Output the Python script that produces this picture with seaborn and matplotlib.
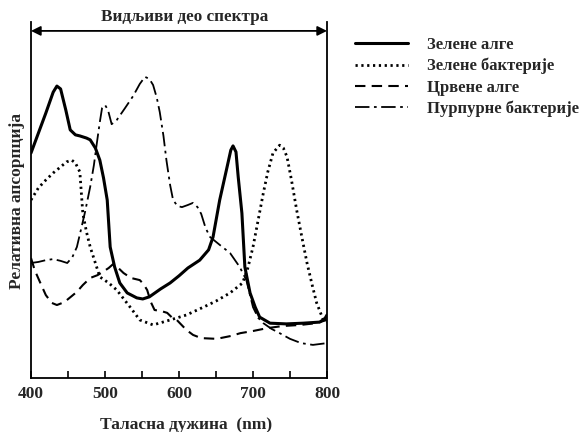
import matplotlib
matplotlib.use("Agg")
import matplotlib.pyplot as plt
import seaborn as sns

# wavelength (nm) and relative absorption (0-100)
green_algae_nm = [400, 420, 430, 435, 440, 447, 453, 460, 466, 475, 480, 487, 493, 498, 503, 507, 513, 520, 530,
                  543, 551, 560, 575, 588, 600, 612, 628, 640, 646, 655, 665, 670, 673, 677, 680, 685, 689, 696,
                  703, 709, 723, 745, 768, 790, 797, 800]
green_algae = [63.2, 74.4, 80.3, 82.0, 81.2, 75.3, 69.7, 68.3, 68.0, 67.4, 66.9, 64.6, 61.2, 56.2, 50.0, 36.8, 31.2,
               26.7, 23.9, 22.5, 22.2, 22.8, 25.0, 26.7, 28.7, 30.9, 33.1, 36.0, 39.6, 50.0, 59.3, 64.0, 65.2, 63.5,
               56.5, 46.3, 31.2, 23.9, 19.9, 17.1, 15.4, 15.2, 15.4, 15.7, 16.6, 17.7]

green_bact_nm = [400, 410, 420, 430, 440, 448, 455, 460, 466, 470, 475, 480, 493, 505, 516, 534, 547, 565, 588, 610,
                 633, 650, 669, 686, 693, 700, 707, 714, 720, 727, 736, 741, 746, 752, 759, 766, 773, 780, 786, 795,
                 800]
green_bact = [50.0, 53.4, 55.6, 57.6, 59.3, 60.7, 61.2, 60.4, 57.9, 46.3, 41.0, 36.8, 28.4, 26.7, 24.7, 19.9, 16.3,
              14.9, 16.3, 17.7, 19.9, 21.6, 23.9, 26.7, 30.9, 36.8, 44.4, 52.0, 57.9, 63.2, 65.4, 64.6, 62.1, 55.6,
              47.2, 39.6, 32.3, 26.1, 21.1, 16.3, 15.7]

red_algae_nm = [400, 405, 412, 420, 428, 435, 445, 455, 462, 470, 480, 490, 497, 505, 511, 518, 525, 535, 547, 552,
                557, 562, 567, 576, 584, 591, 597, 610, 619, 630, 651, 670, 683, 700, 719, 740, 764, 785, 800]
red_algae = [33.7, 30.3, 27.0, 23.3, 21.1, 20.5, 21.3, 23.0, 24.2, 26.1, 28.1, 28.9, 29.8, 30.9, 32.0, 30.9, 29.5,
             28.1, 27.5, 26.4, 24.7, 21.3, 19.1, 18.8, 18.3, 16.9, 16.3, 13.5, 12.1, 11.2, 11.0, 11.8, 12.6, 13.2,
             14.0, 14.6, 14.9, 15.4, 16.3]

purple_bact_nm = [400, 410, 420, 430, 440, 449, 456, 462, 468, 473, 480, 485, 489, 493, 496, 500, 504, 509, 516,
                  527, 538, 547, 554, 560, 565, 570, 574, 579, 583, 588, 592, 598, 604, 612, 619, 625, 630, 636, 642,
                  655, 669, 682, 691, 700, 707, 714, 725, 736, 750, 765, 781, 800]
purple_bact = [32.3, 32.6, 33.1, 33.4, 32.9, 32.3, 34.0, 36.8, 42.1, 46.6, 53.7, 59.8, 66.0, 71.9, 75.8, 76.7, 75.3,
               71.3, 72.5, 75.8, 79.2, 82.6, 84.6, 84.0, 82.3, 78.7, 74.7, 68.0, 61.2, 54.2, 50.0, 48.3, 48.0, 48.6,
               49.2, 48.0, 46.1, 42.1, 39.6, 37.4, 35.1, 31.2, 27.5, 19.9, 16.9, 15.4, 13.8, 12.6, 11.0, 9.8, 9.3,
               9.8]

labels = ["Зелене алге", "Зелене бактерије", "Црвене алге", "Пурпурне бактерије"]
x_ticks = [400, 450, 500, 550, 600, 650, 700, 750, 800]
x_tick_labels = ["400", "", "500", "", "600", "", "700", "", "800"]

sns.set_style("white")
plt.rcParams["font.family"] = ["Liberation Serif", "DejaVu Serif"]
plt.rcParams["font.weight"] = "bold"

fig = plt.figure(figsize=(5.86, 4.32), dpi=100)
ax = fig.add_axes([31 / 586, 1 - 378 / 432, 296 / 586, 356 / 432])

series = [
    (green_algae_nm, green_algae, "-", 2.2),
    (green_bact_nm, green_bact, (0, (0.8, 1.3)), 2.0),
    (red_algae_nm, red_algae, (0, (5, 3)), 1.5),
    (purple_bact_nm, purple_bact, (0, (8, 2.5, 1.5, 2.5)), 1.3),
]
for (xs, ys, ls, lw), lab in zip(series, labels):
    sns.lineplot(x=xs, y=ys, ax=ax, color="black", linestyle=ls, linewidth=lw, label=lab, legend=False)

ax.set_xlim(400, 800)
ax.set_ylim(0, 100)
ax.set_yticks([])
ax.set_xticks(x_ticks)
ax.set_xticklabels(x_tick_labels, fontsize=12.5, fontweight="bold")
ax.tick_params(axis="x", direction="in", length=5, width=1.2, color="black", pad=6, bottom=True)
ax.spines["top"].set_visible(False)
for s in ["left", "right", "bottom"]:
    ax.spines[s].set_color("black")
    ax.spines[s].set_linewidth(1.3)

# visible spectrum arrow
ax.annotate("", xy=(0, 0.975), xytext=(1, 0.975), xycoords="axes fraction",
            arrowprops=dict(arrowstyle="<|-|>", color="black", lw=1.3, mutation_scale=14,
                            shrinkA=0, shrinkB=0))
fig.text(185 / 586, 1 - 17 / 432, "Видљиви део спектра", ha="center", va="center",
         fontsize=12.3, fontweight="bold")

fig.text(186 / 586, 1 - 425 / 432, "Таласна дужина  (nm)", ha="center", va="center",
         fontsize=12.5, fontweight="bold")
fig.text(17 / 586, 1 - 201 / 432, "Релативна апсорпција", ha="center", va="center",
         rotation=90, fontsize=12.5, fontweight="bold")

fig.legend(handles=ax.get_lines(), labels=labels, loc="upper left",
           bbox_to_anchor=(355 / 586, 1 - 37 / 432), frameon=False,
           prop={"weight": "bold", "size": 12}, handlelength=3.2, handletextpad=1.1,
           labelspacing=0.3, borderpad=0, borderaxespad=0)

fig.savefig("out.png", dpi=100)
